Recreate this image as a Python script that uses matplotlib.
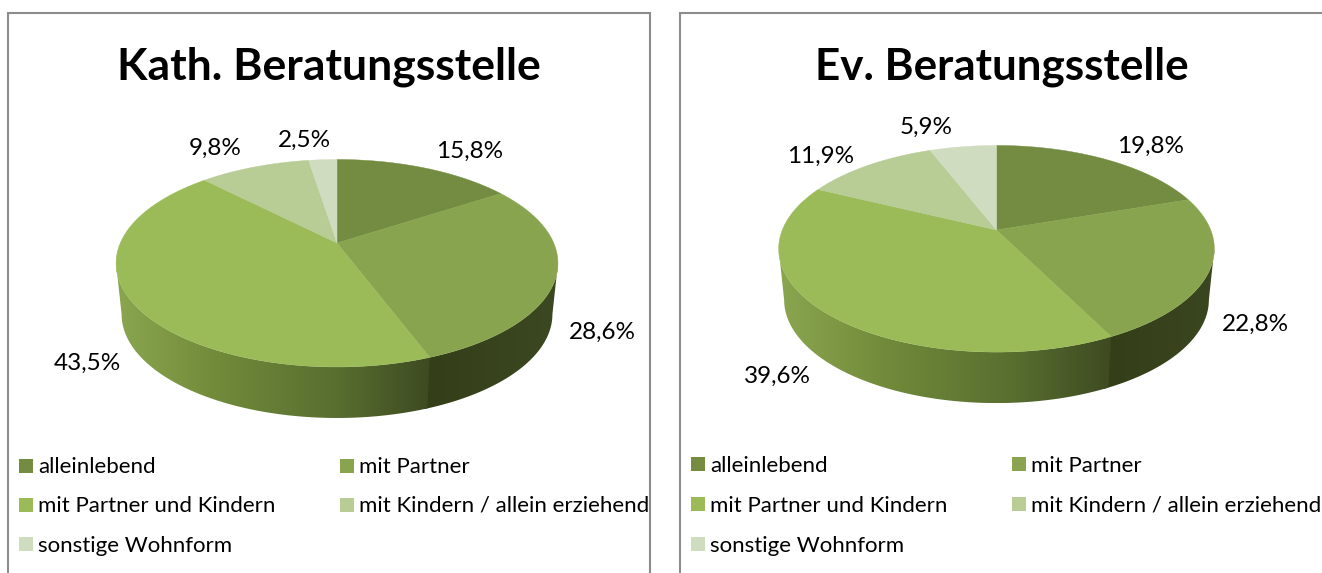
import numpy as np
import matplotlib
matplotlib.use("Agg")
import matplotlib.pyplot as plt
from matplotlib.colors import to_rgb
from matplotlib.patches import Polygon, Rectangle

plt.rcParams['font.family'] = ['Lato', 'DejaVu Sans']

categories = ["alleinlebend", "mit Partner", "mit Partner und Kindern",
              "mit Kindern / allein erziehend", "sonstige Wohnform"]
kath_values = [15.8, 28.6, 43.5, 9.8, 2.5]
ev_values = [19.8, 22.8, 39.6, 11.9, 5.9]
colors = ["#748c41", "#88a44e", "#9bbb59", "#b8cc95", "#d0dcc0"]

kath_label_pos = [(470, 151), (602, 332), (87, 363), (215, 148), (304, 140)]
ev_label_pos = [(1151, 146), (1255, 324), (777, 376), (821, 156), (926, 127)]


def fmt(v):
    return f"{v:.1f}".replace(".", ",") + "%"


def rim(theta, cx, cy, a, b, k):
    # perspective circle, theta in radians clockwise from the top
    u, v = np.sin(theta), np.cos(theta)
    return cx + b * u / (1 + k * v), cy - a * v / (1 + k * v)


def wall_gradient(xs, x_left, x_right, idx):
    if idx == 1:
        stops = [to_rgb("#343f1a"), to_rgb("#3c4822")]
        pos = [x_right, x_right + 125]
    else:
        stops = [to_rgb(c) for c in ["#8ba64f", "#6f8839", "#586f30", "#3e4a21"]]
        pos = [x_left + (x_right - x_left) * f for f in [0, .35, .7, 1]]
    return np.column_stack([np.interp(xs, pos, [s[i] for s in stops]) for i in range(3)])


def draw_pie(ax, values, cx, cy, a, b, k, depth):
    fr = np.array(values) / sum(values)
    edges = np.concatenate([[0], np.cumsum(fr)]) * 2 * np.pi
    front = (np.pi / 2 + np.arcsin(k), 3 * np.pi / 2 - np.arcsin(k))
    x_right = rim(edges[2], cx, cy, a, b, k)[0]

    # side wall: a horizontal gradient clipped to the rim shape
    for i in range(len(values)):
        lo, hi = max(edges[i], front[0]), min(edges[i + 1], front[1])
        if lo >= hi:
            continue
        # small overlap so no white seam shows between two walls
        th = np.linspace(lo, min(hi + 0.02, front[1]), 200)
        x, y = rim(th, cx, cy, a, b, k)
        xb = cx + (x - cx) * 0.975
        yb = y + depth
        pts = np.column_stack([np.r_[x, xb[::-1]], np.r_[y, yb[::-1]]])
        x0, x1 = pts[:, 0].min(), pts[:, 0].max()
        y0, y1 = pts[:, 1].min(), pts[:, 1].max()
        xs = np.linspace(x0, x1, 400)
        grad = wall_gradient(xs, rim(front[1], cx, cy, a, b, k)[0], x_right, i)[np.newaxis, :, :]
        im = ax.imshow(grad, extent=(x0, x1, y1, y0), aspect="auto", interpolation="bilinear", zorder=1)
        im.set_clip_path(Polygon(pts, closed=True, transform=ax.transData))

    # top face
    for i in range(len(values)):
        th = np.linspace(edges[i], edges[i + 1], 200)
        x, y = rim(th, cx, cy, a, b, k)
        pts = np.column_stack([np.r_[cx, x], np.r_[cy, y]])
        ax.add_patch(Polygon(pts, closed=True, facecolor=colors[i], edgecolor=colors[i],
                             linewidth=0.3, zorder=2))


def draw_legend(ax, x1, x2, ys):
    rows = [(x1, ys[0]), (x2, ys[0]), (x1, ys[1]), (x2, ys[1]), (x1, ys[2])]
    for (x, y), name, c in zip(rows, categories, colors):
        ax.add_patch(Rectangle((x, y - 7), 14, 14, facecolor=c, edgecolor="none"))
        ax.text(x + 19, y - 0.5, name, fontsize=16, color="black", va="center_baseline", ha="left")


fig = plt.figure(figsize=(13.22, 5.73), dpi=100)
ax = fig.add_axes([0, 0, 1, 1])
ax.axis("off")

# chart frames, cut off at the bottom of the picture
frame = "#8c8c8c"
ax.plot([8, 8, 650, 650], [573, 13, 13, 573], color=frame, lw=1.5, solid_joinstyle="miter")
ax.plot([680, 680, 1322], [573, 13, 13], color=frame, lw=1.5, solid_joinstyle="miter")

ax.text(329, 67, "Kath. Beratungsstelle", fontsize=32, fontweight="bold", ha="center", va="center")
ax.text(1001.5, 67, "Ev. Beratungsstelle", fontsize=31.7, fontweight="bold", ha="center", va="center")

draw_pie(ax, kath_values, 337, 243, 99.8, 216.7, 0.195, 51)
draw_pie(ax, ev_values, 996.5, 230, 99.9, 214.2, 0.1817, 51)

for v, (x, y) in zip(kath_values, kath_label_pos):
    ax.text(x, y, fmt(v), fontsize=17.5, ha="center", va="center")
for v, (x, y) in zip(ev_values, ev_label_pos):
    ax.text(x, y, fmt(v), fontsize=17.5, ha="center", va="center")

draw_legend(ax, 19, 340, [465.5, 504.5, 544])
draw_legend(ax, 691, 1012, [464, 504, 544])

ax.set_xlim(0, 1322)
ax.set_ylim(573, 0)

fig.savefig("out.png", dpi=100)
